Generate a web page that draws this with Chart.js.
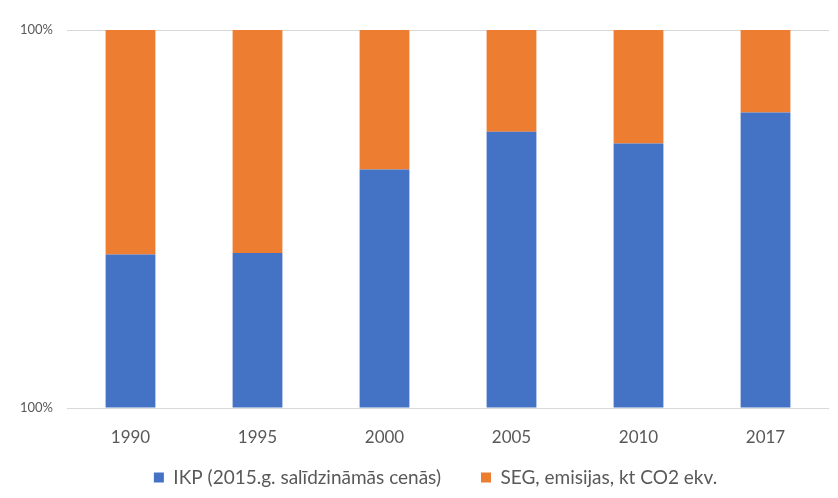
<!DOCTYPE html>
<html>
<head>
<meta charset="utf-8">
<script src="https://cdn.jsdelivr.net/npm/chart.js@4/dist/chart.umd.min.js"></script>
<style>
  html, body { margin: 0; padding: 0; background: #ffffff; }
  #wrap { width: 838px; height: 498px; }
</style>
</head>
<body>
<div id="wrap"><canvas id="c" width="838" height="498"></canvas></div>
<script>
// Years on the category axis
const years = ['1990', '1995', '2000', '2005', '2010', '2017'];
// Share of each indicator within a year's column (%)
const ikpShare = [40.6, 41.0, 63.1, 73.1, 70.0, 78.2];
const segShare = [59.4, 59.0, 36.9, 26.9, 30.0, 21.8];
// Labels printed at the two value-axis ticks (bottom, top)
const yTickLabels = ['100%', '100%'];

const seriesNames = ['IKP (2015.g. salīdzināmās cenās)', 'SEG, emisijas, kt CO2 ekv.'];
const textColor = '#595959';
const fontFamily = 'Lato, "Open Sans", sans-serif';

// The legend uses a wide item gap; its large padding would also push it down,
// so after layout its box is stretched upward (lifting the items) and nudged right.
const legendNudge = {
  id: 'legendNudge',
  afterLayout(chart) {
    const lg = chart.legend;
    if (!lg) return;
    const dy = 21, dx = 21;
    lg.top -= dy;
    lg.height = lg.bottom - lg.top;
    lg.left += dx; lg.right += dx;
  }
};

new Chart(document.getElementById('c'), {
  type: 'bar',
  data: {
    labels: years,
    datasets: [
      { label: seriesNames[0], data: ikpShare, backgroundColor: '#4472C4', borderWidth: 0 },
      { label: seriesNames[1], data: segShare, backgroundColor: '#ED7D31', borderWidth: 0 }
    ]
  },
  options: {
    responsive: false,
    animation: false,
    devicePixelRatio: 1,
    layout: { padding: { top: 30, right: 9, left: 0, bottom: 0 } },
    datasets: { bar: { categoryPercentage: 0.8, barPercentage: 0.49 } },
    scales: {
      x: {
        stacked: true,
        afterFit: (s) => { s.height = 41; },
        grid: { display: false },
        border: { display: false },
        ticks: { color: textColor, font: { family: fontFamily, size: 17 }, padding: 11 }
      },
      y: {
        stacked: true,
        min: 0,
        max: 100,
        afterFit: (s) => { s.width = 67; },
        afterBuildTicks: (s) => { s.ticks = [{ value: 0 }, { value: 100 }]; },
        grid: { color: '#d9d9d9', drawTicks: false, lineWidth: 1 },
        border: { display: false },
        ticks: {
          color: textColor,
          font: { family: fontFamily, size: 13 },
          padding: 14,
          callback: (v, i) => yTickLabels[i]
        }
      }
    },
    plugins: {
      legend: {
        position: 'bottom',
        maxHeight: 49,
        labels: {
          color: textColor,
          font: { family: fontFamily, size: 19 },
          boxWidth: 10,
          boxHeight: 10,
          padding: 40
        }
      },
      tooltip: { enabled: false }
    }
  },
  plugins: [legendNudge]
});
</script>
</body>
</html>
